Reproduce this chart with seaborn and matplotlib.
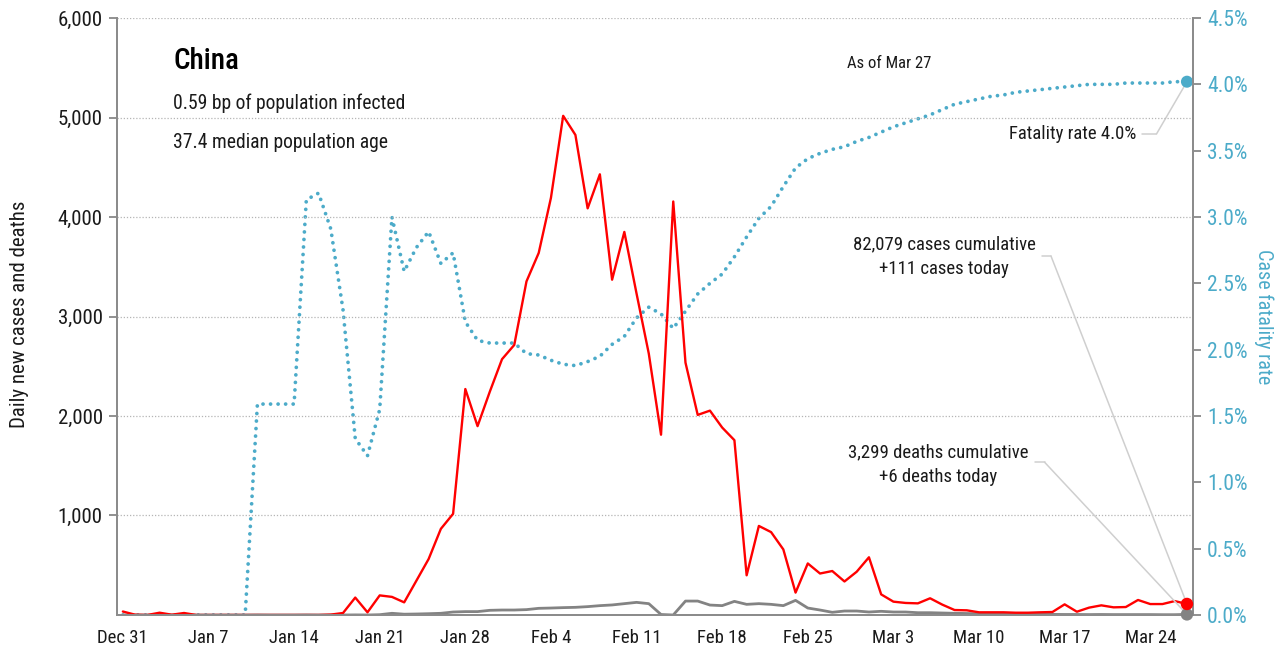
import numpy as np
import pandas as pd
import matplotlib
matplotlib.use("Agg")
import matplotlib.pyplot as plt
import seaborn as sns

# x tick labels, one per week starting Dec 31
tick_labels = ["Dec 31", "Jan 7", "Jan 14", "Jan 21", "Jan 28", "Feb 4", "Feb 11",
               "Feb 18", "Feb 25", "Mar 3", "Mar 10", "Mar 17", "Mar 24"]

# daily values, Dec 31 .. Mar 27
daily_cases = [35, 3, 0, 23, 3, 20, 0, 0, 0, 0, 0, 0, 0, 0, 0, 0, 0, 4, 20, 175,
               27, 197, 182, 127, 345, 563, 866, 1017, 2271, 1898, 2244, 2571, 2714, 3353, 3639, 4193,
               5017, 4825, 4087, 4429, 3370, 3850, 3230, 2627, 1812, 4156, 2536, 2011, 2054, 1884,
               1757, 399, 895, 833, 659, 225, 518, 417, 442, 337, 435, 580, 207, 134, 121, 117,
               168, 104, 50, 47, 27, 27, 27, 23, 23, 27, 30, 107, 33, 74, 97, 77, 80, 151,
               110, 110, 140, 111]
daily_deaths = [0, 0, 0, 0, 0, 0, 0, 0, 0, 0, 0, 1, 0, 0, 0, 1, 0, 0, 0, 1,
                0, 3, 17, 8, 10, 13, 17, 30, 34, 34, 47, 50, 50, 54, 67, 70,
                74, 77, 84, 94, 101, 114, 127, 114, 5, 0, 140, 140, 100, 94,
                137, 107, 114, 107, 94, 147, 70, 50, 27, 40, 40, 30, 37, 30, 30, 23,
                23, 20, 17, 15, 12, 10, 10, 8, 8, 7, 6, 5, 5, 4, 5, 4, 4, 4,
                4, 3, 3, 6]
fatality_rate = [0, 0, 0, 0, 0, 0, 0, 0, 0, 0, 0, 1.59, 1.59, 1.59, 1.59, 3.13, 3.18, 2.91, 2.30, 1.33,
                 1.20, 1.55, 3.00, 2.59, 2.77, 2.89, 2.65, 2.73, 2.21, 2.07, 2.05, 2.05, 2.05, 1.97, 1.96, 1.92,
                 1.89, 1.88, 1.91, 1.95, 2.04, 2.10, 2.24, 2.32, 2.27, 2.16, 2.29, 2.42, 2.50, 2.57,
                 2.70, 2.85, 2.99, 3.08, 3.23, 3.37, 3.44, 3.48, 3.51, 3.53, 3.57, 3.60, 3.64, 3.68, 3.71, 3.74,
                 3.77, 3.81, 3.85, 3.87, 3.89, 3.91, 3.92, 3.94, 3.95, 3.96, 3.97, 3.98, 3.99, 4.00, 4.00, 4.00,
                 4.01, 4.01, 4.01, 4.01, 4.02, 4.02]

RED = "#ff0000"
GREY = "#838383"
TEAL = "#4cabc9"
TXT = "#1a1a1a"

df = pd.DataFrame({
    "day": np.arange(len(daily_cases)) + 0.5,   # points sit at noon of each day
    "cases": daily_cases,
    "deaths": daily_deaths,
    "rate": fatality_rate,
})
last = df.iloc[[-1]]

sns.set_style("white")
plt.rcParams["font.family"] = ["Roboto Condensed", "Liberation Sans Narrow", "DejaVu Sans"]

fig = plt.figure(figsize=(12.83, 6.53), dpi=100)
ax = fig.add_axes([0.091, 0.0582, 0.8389, 0.9142])
ax2 = ax.twinx()
ax.set_zorder(ax2.get_zorder() + 1)
ax.patch.set_visible(False)

# fatality rate, dotted, right axis
sns.lineplot(data=df, x="day", y="rate", ax=ax2, color=TEAL, lw=2.7,
             linestyle=(0, (0.01, 2.0)), dash_capstyle="round")
sns.scatterplot(data=last, x="day", y="rate", ax=ax2, color=TEAL, s=75,
                edgecolor="none", clip_on=False, zorder=5)

# daily cases and deaths, left axis
sns.lineplot(data=df, x="day", y="deaths", ax=ax, color=GREY, lw=2.0)
sns.lineplot(data=df, x="day", y="cases", ax=ax, color=RED, lw=1.7)
sns.scatterplot(data=last, x="day", y="cases", ax=ax, color=RED, s=80,
                edgecolor="none", clip_on=False, zorder=6)
sns.scatterplot(data=last, x="day", y="deaths", ax=ax, color=GREY, s=80,
                edgecolor="none", clip_on=False, zorder=5)

# axes limits / ticks
ax.set_xlim(0, 88)
ax.set_ylim(0, 6000)
ax2.set_ylim(0, 4.5)

week_pos = np.arange(len(tick_labels)) * 7
ax.set_xticks(week_pos)
ax.set_xticklabels([])
ax.set_xticks(week_pos + 0.5, minor=True)
ax.set_xticklabels(tick_labels, minor=True)
ax.tick_params(axis="x", which="major", length=6, width=1.3, color="#888888", direction="out")
ax.tick_params(axis="x", which="minor", length=0, pad=10, labelsize=13.5, labelcolor=TXT)

yt = np.arange(1000, 6001, 1000)
ax.set_yticks(yt)
ax.set_yticklabels([f"{v:,.0f}" for v in yt])
ax.tick_params(axis="y", length=6, width=1.3, color="#888888", labelsize=15,
               labelcolor=TXT, pad=4, left=True)
ax.yaxis.grid(True, color="#b5b5b5", linestyle=(0, (1, 1.5)), lw=0.9)
ax.xaxis.grid(False)

rt = np.arange(0, 4.51, 0.5)
ax2.set_yticks(rt)
ax2.set_yticklabels([f"{v:.1f}%" for v in rt])
ax2.tick_params(axis="y", length=6, width=1.3, color="#888888", labelsize=15.5,
                labelcolor=TEAL, pad=4, right=True)
ax2.grid(False)

for a in (ax, ax2):
    a.spines["top"].set_visible(False)
    for s in ("left", "right", "bottom"):
        a.spines[s].set_color("#8c8c8c")
        a.spines[s].set_linewidth(1.4)

ax.set_xlabel("")
ax.set_ylabel("Daily new cases and deaths", fontsize=15, color=TXT)
ax.yaxis.set_label_coords(-0.0815, 0.504)
ax2.set_ylabel("Case fatality rate", fontsize=14.5, color=TEAL, rotation=270, va="center")
ax2.yaxis.set_label_coords(1.066, 0.499)

# header text
ax.text(0.0523, 0.928, "China", transform=ax.transAxes, fontsize=21, color="black",
        va="center", ha="left", fontweight="medium")
ax.text(0.0523, 0.8576, "0.59 bp of population infected", transform=ax.transAxes,
        fontsize=14.1, color=TXT, va="center", ha="left")
ax.text(0.0523, 0.7923, "37.4 median population age", transform=ax.transAxes,
        fontsize=14.1, color=TXT, va="center", ha="left")
ax.text(0.7175, 0.923, "As of Mar 27", transform=ax.transAxes, fontsize=12,
        color=TXT, va="center", ha="center")

# callouts with leader lines to the last points
LEAD = "#cfcfcf"
ax.text(0.947, 0.8057, "Fatality rate 4.0%", transform=ax.transAxes, fontsize=13.5,
        color=TXT, va="center", ha="right")
ax.plot([0.9525, 0.966], [0.8057, 0.8057], transform=ax.transAxes, color=LEAD, lw=1.1, clip_on=False)
ax2.annotate("", xy=(last["day"].iloc[0], last["rate"].iloc[0]), xycoords="data",
             xytext=(0.966, 0.8057), textcoords="axes fraction",
             arrowprops=dict(arrowstyle="-", color=LEAD, lw=1.1, shrinkA=0, shrinkB=0))

ax.text(0.7687, 0.5997, "82,079 cases cumulative\n+111 cases today", transform=ax.transAxes,
        fontsize=13.5, color=TXT, va="center", ha="center", linespacing=1.45)
ax.plot([0.8595, 0.868], [0.6013, 0.6013], transform=ax.transAxes, color=LEAD, lw=1.1)
ax.annotate("", xy=(last["day"].iloc[0], last["cases"].iloc[0]), xycoords="data",
            xytext=(0.868, 0.6013), textcoords="axes fraction",
            arrowprops=dict(arrowstyle="-", color=LEAD, lw=1.1, shrinkA=0, shrinkB=0))

ax.text(0.763, 0.252, "3,299 deaths cumulative\n+6 deaths today", transform=ax.transAxes,
        fontsize=13.5, color=TXT, va="center", ha="center", linespacing=1.45)
ax.plot([0.853, 0.862], [0.256, 0.256], transform=ax.transAxes, color=LEAD, lw=1.1)
ax.annotate("", xy=(last["day"].iloc[0], last["deaths"].iloc[0]), xycoords="data",
            xytext=(0.862, 0.256), textcoords="axes fraction",
            arrowprops=dict(arrowstyle="-", color=LEAD, lw=1.1, shrinkA=0, shrinkB=0))

fig.savefig("out.png", dpi=100)
